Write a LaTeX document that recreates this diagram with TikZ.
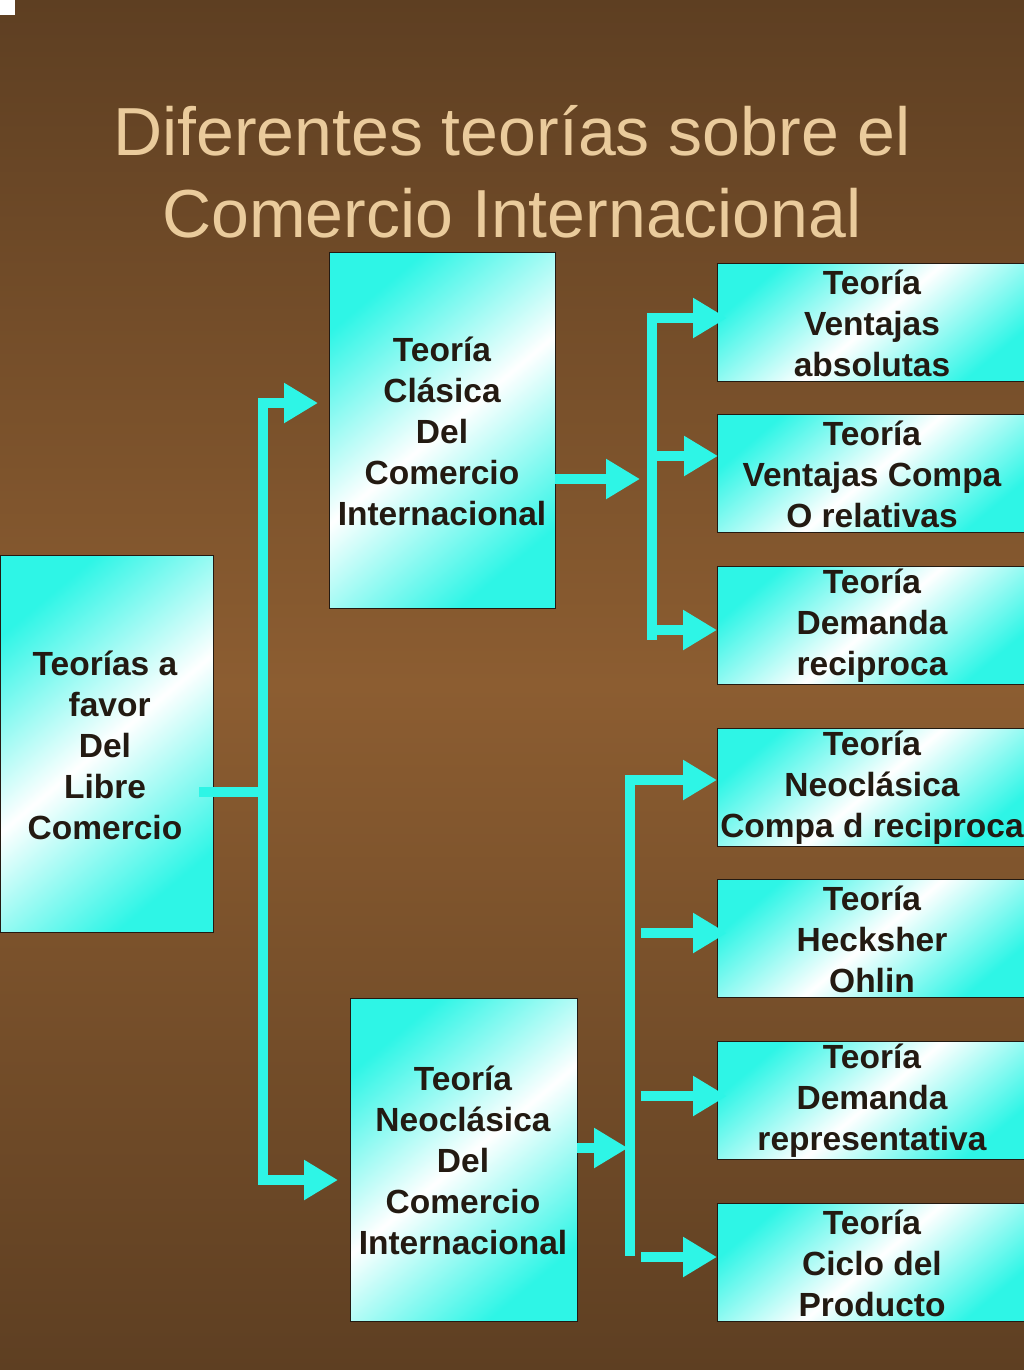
\documentclass[tikz,border=0pt]{standalone}
\usepackage{fontspec}
\setmainfont{Liberation Sans}
\usetikzlibrary{arrows.meta}
\definecolor{aqua}{HTML}{2EF5E6}
\definecolor{bgtop}{HTML}{5E3F22}
\definecolor{bgmid}{HTML}{8C5D31}
\definecolor{titlec}{HTML}{EACB9C}
\definecolor{txt}{HTML}{231A12}
\tikzset{
  boxfill/.style={draw=txt, line width=1pt, shading=axis, top color=aqua, bottom color=aqua, middle color=white, shading angle=40},
  label/.style={align=center, font=\fontsize{33.5}{41}\selectfont\bfseries, text=txt, inner sep=0pt},
  flow/.style={aqua, line width=10pt},
  flowar/.style={aqua, line width=10pt, -{Triangle[length=34pt,width=38pt]}},
}
\begin{document}
\begin{tikzpicture}[x=1pt,y=-1pt]
\useasboundingbox (0,0) rectangle (1024,1370);
\shade[top color=bgtop, bottom color=bgtop, middle color=bgmid] (0,0) rectangle (1024,1370);
\fill[white] (0,0) rectangle (15,15);
\node[titlec, font=\fontsize{68}{82}\selectfont, align=center] (title) at (512,172) {Diferentes teorías sobre el\\Comercio Internacional};
% boxes
\path[boxfill] (0,555) rectangle (213,932);
\node[label] (left) at (105,745) {Teorías a\\ \ favor\\Del\\Libre\\Comercio};
\path[boxfill] (329,252) rectangle (555,608);
\node[label] (clas) at (442,431) {Teoría\\Clásica\\Del\\Comercio\\Internacional};
\path[boxfill] (350,998) rectangle (577,1321);
\node[label] (neo) at (463,1160) {Teoría\\Neoclásica\\Del\\Comercio\\Internacional};
\foreach \t/\n/\txt in {263/r1/{Teoría\\Ventajas\\absolutas},414/r2/{Teoría\\Ventajas Compa\\O relativas},566/r3/{Teoría\\Demanda\\reciproca},728/r4/{Teoría\\Neoclásica\\Compa d reciproca},879/r5/{Teoría\\Hecksher\\Ohlin},1041/r6/{Teoría\\Demanda\\representativa},1203/r7/{Teoría\\Ciclo del\\Producto}}{
  \path[boxfill] (717,\t) rectangle (1030,\t+118);
  \node[label] (\n) at (872,\t+60) {\txt};
}
% connectors
\coordinate (a0) at (199,792); \coordinate (a1) at (263,792);
\draw[flow] (a0) -- (a1);
\draw[flow] (263,398) -- (263,1185);
\coordinate (a2) at (258,403); \coordinate (a3) at (318,403);
\draw[flowar] (a2) -- (a3);
\coordinate (a4) at (258,1180); \coordinate (a5) at (338,1180);
\draw[flowar] (a4) -- (a5);
\coordinate (b0) at (555,479); \coordinate (b1) at (640,479);
\draw[flowar] (b0) -- (b1);
\draw[flow] (652,318) -- (652,640);
\foreach \y/\e in {318/727,456/718,630/717}{\draw[flowar] (647,\y) -- (\e,\y);}
\coordinate (c0) at (577,1148); \coordinate (c1) at (628,1148);
\draw[flowar] (c0) -- (c1);
\draw[flow] (630,780) -- (630,1256);
\draw[flowar] (625,780) -- (717,780);
\foreach \y/\e in {933/727,1096/727,1257/717}{\draw[flowar] (641,\y) -- (\e,\y);}
\end{tikzpicture}
\end{document}
